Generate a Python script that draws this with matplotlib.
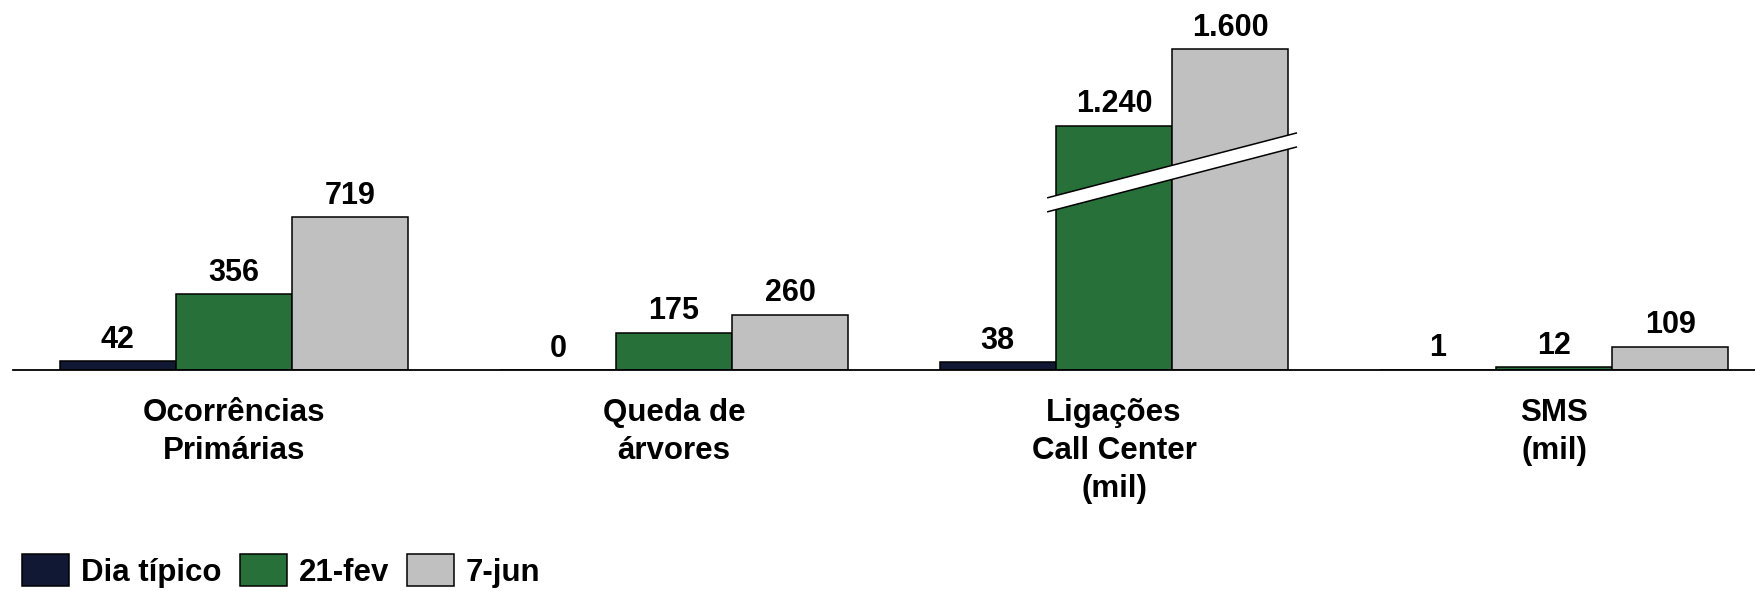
import numpy as np
import matplotlib
matplotlib.use('Agg')
import matplotlib.pyplot as plt
from matplotlib.patches import Polygon

plt.rcParams['font.family'] = ['Liberation Sans', 'DejaVu Sans']
plt.rcParams['font.weight'] = 'bold'

categories = ['Ocorrências\nPrimárias', 'Queda de\nárvores', 'Ligações\nCall Center\n(mil)', 'SMS\n(mil)']
series = ['Dia típico', '21-fev', '7-jun']
dia_tipico = [42, 0, 38, 1]
fev21 = [356, 175, 1240, 12]
jun7 = [719, 260, 1600, 109]
labels_fmt = lambda v: f'{v:,}'.replace(',', '.')

# axis break on the call center group: bars above the break are drawn shorter
broken_group = 2
break_gap = 90

colors = ['#111833', '#27703A', '#C0C0C0']

fig = plt.figure(figsize=(17.56, 5.91), dpi=100)
ax = fig.add_axes([13 / 1756, 221 / 591, 1743 / 1756, 340 / 591])

w = 0.264
x = np.arange(len(categories))
data = [dia_tipico, fev21, jun7]
for i, (vals, col) in enumerate(zip(data, colors)):
    offs = (i - 1) * w
    for j, v in enumerate(vals):
        h = v - break_gap if (j == broken_group and v > 1000) else v
        ax.bar(x[j] + offs, h, width=w, color=col, edgecolor='black', linewidth=1.1,
               label=series[i] if j == 0 else None)
        ax.text(x[j] + offs, h + 30, labels_fmt(v), ha='center', va='bottom',
                fontsize=22, fontweight='bold')

# break marker
x0 = broken_group - 1.5 * w + w - 0.02
x1 = broken_group + 1.5 * w + 0.02
lo0, lo1, thick = 744, 1050, 66
band = Polygon([[x0, lo0], [x1, lo1], [x1, lo1 + thick], [x0, lo0 + thick]],
               closed=True, facecolor='white', edgecolor='none', zorder=5)
ax.add_patch(band)
ax.plot([x0, x1], [lo0, lo1], color='black', lw=1.1, zorder=6, solid_capstyle='butt')
ax.plot([x0, x1], [lo0 + thick, lo1 + thick], color='black', lw=1.1, zorder=6, solid_capstyle='butt')

ax.set_xlim(-0.502, 3.459)
ax.set_ylim(0, 1600)
for s in ['top', 'right', 'left']:
    ax.spines[s].set_visible(False)
ax.spines['bottom'].set_linewidth(1.3)
ax.set_yticks([])
ax.set_xticks(x)
ax.set_xticklabels(categories, fontsize=22.5, fontweight='bold', linespacing=1.35)
ax.tick_params(axis='x', length=0, pad=20)

handles, labs = ax.get_legend_handles_labels()
fig.legend(handles, labs, loc='lower left', bbox_to_anchor=(0.011, 0.0), ncol=3,
           frameon=False, fontsize=22.5, handlelength=1.5, handleheight=1.2,
           handletextpad=0.38, columnspacing=0.58, borderpad=0.1, borderaxespad=0.0)

fig.savefig('out.png', dpi=100)
